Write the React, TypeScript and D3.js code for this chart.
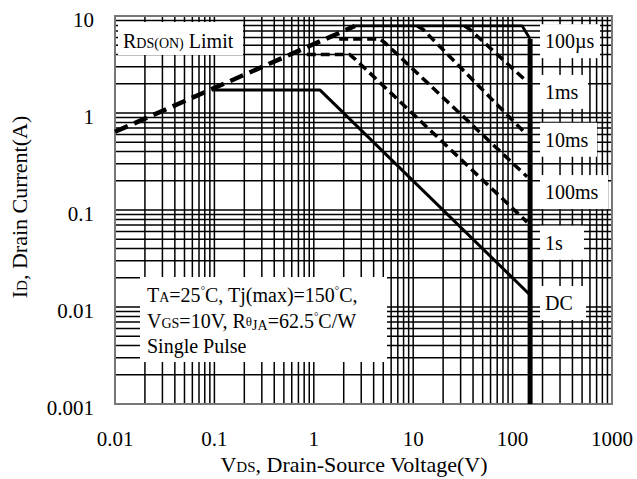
import React from 'react';
import * as d3 from 'd3';

// ---- axis ticks ----
const xTickValues = [0.01, 0.1, 1, 10, 100, 1000];
const xTickLabels = ['0.01', '0.1', '1', '10', '100', '1000'];
const yTickValues = [0.001, 0.01, 0.1, 1, 10];
const yTickLabels = ['0.001', '0.01', '0.1', '1', '10'];

// ---- series (VDS in V, ID in A) ----
const rdsV = [0.01, 2.6];
const rdsI = [0.64, 7.9];
const us100V = [2.6, 125, 150];
const us100I = [7.9, 7.9, 5.8];
const bvV = [150, 150];
const bvI = [5.8, 0.001];
const ms1V = [33, 37, 140];
const ms1I = [7.9, 7.3, 2.1];
const ms10V = [11, 12.5, 130];
const ms10I = [7.9, 7.3, 0.64];
const ms100V = [1.8, 4.6, 5.2, 140];
const ms100I = [5.8, 5.8, 5.3, 0.22];
const s1V = [0.85, 2.3, 2.6, 140];
const s1I = [4.0, 4.0, 3.6, 0.075];
const dcV = [0.095, 1.15, 150];
const dcI = [1.73, 1.73, 0.0133];

// ---- right-hand labels and the current where each sits ----
const curveLabels = ['100\u00B5s', '1ms', '10ms', '100ms', '1s', 'DC'];
const curveLabelAnchorI = [5.5, 1.65, 0.53, 0.153, 0.046, 0.011];

const W = 637;
const H = 479;
const M = { left: 115, right: 612, top: 16, bottom: 404 };
const FONT = '"Liberation Serif", "Times New Roman", serif';

export default function App() {
  const x = d3.scaleLog().domain([0.01, 1000]).range([M.left, M.right]);
  const y = d3.scaleLog().domain([0.001, 10]).range([M.bottom, M.top]);

  const xGrid: number[] = [];
  for (let k = -2; k <= 2; k++) for (let m = 1; m <= 9; m++) xGrid.push(m * Math.pow(10, k));
  xGrid.push(1000);
  const yGrid: number[] = [];
  for (let k = -3; k <= 0; k++) for (let m = 1; m <= 9; m++) yGrid.push(m * Math.pow(10, k));
  yGrid.push(10);

  const line = d3
    .line<[number, number]>()
    .x((d) => x(d[0]))
    .y((d) => y(d[1]));
  const pts = (vs: number[], is: number[]) => vs.map((v, i) => [v, is[i]] as [number, number]);

  const labelX = 545;
  const labelBoxW = [60, 48, 57, 68, 44, 46];

  return (
    <svg
      width={W}
      height={H}
      style={{ position: 'absolute', left: 0, top: 0, background: '#fff' }}
      fontFamily={FONT}
    >
      <rect x={0} y={0} width={W} height={H} fill="#fff" />
      {/* grid */}
      <g stroke="#000" strokeWidth={1.5}>
        {xGrid.map((v, i) => (
          <line key={'gx' + i} x1={x(v)} x2={x(v)} y1={M.top} y2={M.bottom} />
        ))}
        {yGrid.map((v, i) => (
          <line key={'gy' + i} x1={M.left} x2={M.right} y1={y(v)} y2={y(v)} />
        ))}
      </g>
      {/* white label boxes */}
      <g fill="#fff">
        <rect x={118} y={22} width={125} height={33} />
        <rect x={140} y={277} width={247} height={85} />
        {curveLabels.map((l, i) => {
          const cy = y(curveLabelAnchorI[i]);
          return <rect key={'lb' + i} x={540} y={cy - 17} width={labelBoxW[i]} height={34} />;
        })}
      </g>
      {/* frame */}
      <rect
        x={M.left}
        y={M.top}
        width={M.right - M.left}
        height={M.bottom - M.top}
        fill="none"
        stroke="#777"
        strokeWidth={2}
      />
      {/* curves */}
      <g fill="none" stroke="#000" strokeLinejoin="round">
        <path d={line(pts(rdsV, rdsI)) || ''} strokeWidth={4.5} strokeDasharray="14,7" />
        <path d={line(pts(ms1V, ms1I)) || ''} strokeWidth={3.5} strokeDasharray="9,5" />
        <path d={line(pts(ms10V, ms10I)) || ''} strokeWidth={3.5} strokeDasharray="9,5" />
        <path d={line(pts(ms100V, ms100I)) || ''} strokeWidth={3.5} strokeDasharray="9,5" />
        <path d={line(pts(s1V, s1I)) || ''} strokeWidth={3.5} strokeDasharray="9,5" />
        <path d={line(pts(us100V, us100I)) || ''} strokeWidth={2.8} />
        <path d={line(pts(dcV, dcI)) || ''} strokeWidth={3} />
        <path d={line(pts(bvV, bvI)) || ''} strokeWidth={5} />
      </g>
      {/* right labels */}
      <g fontSize={20} fill="#000">
        {curveLabels.map((l, i) => (
          <text key={'cl' + i} x={labelX} y={y(curveLabelAnchorI[i]) + 7}>
            {l}
          </text>
        ))}
      </g>
      {/* RDS label */}
      <text x={123} y={48} fontSize={20}>
        R<tspan fontSize={14}>DS(ON)</tspan> Limit
      </text>
      {/* annotation */}
      <g fontSize={20}>
        <text x={147} y={302}>
          T<tspan fontSize={14}>A</tspan>=25<tspan fontSize={11} dy={-8}>°</tspan>
          <tspan dy={8}>C, Tj(max)=150</tspan>
          <tspan fontSize={11} dy={-8}>°</tspan>
          <tspan dy={8}>C,</tspan>
        </text>
        <text x={147} y={328}>
          V<tspan fontSize={14}>GS</tspan>=10V, R<tspan fontSize={13} dy={-2}>θ</tspan>
          <tspan fontSize={14} dy={4}>JA</tspan>
          <tspan dy={-2}>=62.5</tspan>
          <tspan fontSize={11} dy={-8}>°</tspan>
          <tspan dy={8}>C/W</tspan>
        </text>
        <text x={147} y={353}>Single Pulse</text>
      </g>
      {/* tick labels */}
      <g fontSize={21} textAnchor="middle">
        {xTickValues.map((v, i) => (
          <text key={'xt' + i} x={x(v)} y={446}>
            {xTickLabels[i]}
          </text>
        ))}
      </g>
      <g fontSize={21} textAnchor="end">
        {yTickValues.map((v, i) => (
          <text key={'yt' + i} x={94} y={y(v) + 11}>
            {yTickLabels[i]}
          </text>
        ))}
      </g>
      {/* axis titles */}
      <text x={354} y={472} fontSize={22} textAnchor="middle">
        V<tspan fontSize={15}>DS</tspan>, Drain-Source Voltage(V)
      </text>
      <text transform="translate(27,207) rotate(-90)" fontSize={22} textAnchor="middle">
        I<tspan fontSize={15}>D</tspan>, Drain Current(A)
      </text>
    </svg>
  );
}
